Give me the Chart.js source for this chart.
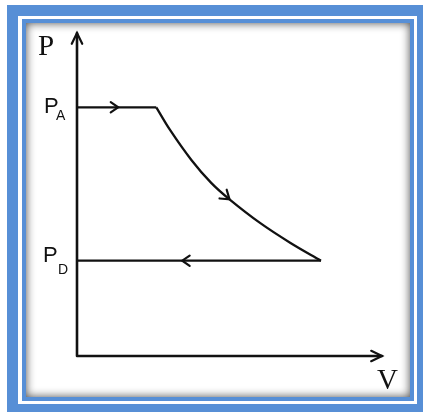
<!DOCTYPE html>
<html>
<head>
<meta charset="utf-8">
<script src="https://cdn.jsdelivr.net/npm/chart.js@4.4.1/dist/chart.umd.min.js"></script>
<style>
  body { margin: 0; background: #fff; }
  canvas { display: block; }
</style>
</head>
<body>
<canvas id="pvChart" width="423" height="412"></canvas>
<script>
// P-V cycle, arbitrary units (axes run 0..10)
const pA = 7.7;
const pD = 2.95;
const topV = [0, 2.6];
const curveV = [2.6, 3.05, 3.75, 4.4, 5.0, 6.0, 7.0, 8.0];
const curveP = [7.7, 7.0, 6.07, 5.36, 4.85, 4.12, 3.5, 2.95];
const bottomV = [8.0, 0];
const arrowTopV = 1.35;
const arrowBottomV = 3.45;
const arrowCurveIdx = 4;

const blue = '#578fd6';
const ink = '#111';

function pts(xs, ys) {
    return xs.map((x, i) => ({ x: x, y: Array.isArray(ys) ? ys[i] : ys }));
}

// draws an open chevron with tip at (x,y) pointing along angle a
function chevron(ctx, x, y, a, len, spread) {
    ctx.beginPath();
    ctx.moveTo(x - len * Math.cos(a - spread), y - len * Math.sin(a - spread));
    ctx.lineTo(x, y);
    ctx.lineTo(x - len * Math.cos(a + spread), y - len * Math.sin(a + spread));
    ctx.stroke();
}

const framePlugin = {
    id: 'frame',
    beforeDraw(chart) {
        const ctx = chart.ctx;
        ctx.save();
        ctx.fillStyle = '#fff';
        ctx.fillRect(0, 0, 423, 412);
        ctx.fillStyle = blue;
        ctx.fillRect(7, 5, 416, 407);
        ctx.fillStyle = '#fff';
        ctx.fillRect(18, 16, 399, 388);
        ctx.fillStyle = blue;
        ctx.fillRect(22, 19, 392, 382);
        ctx.fillStyle = '#fff';
        ctx.fillRect(26, 23, 384, 374);
        // inner shadow
        ctx.beginPath();
        ctx.rect(26, 23, 384, 374);
        ctx.clip();
        ctx.shadowColor = 'rgba(0,0,0,0.7)';
        ctx.shadowBlur = 10;
        ctx.lineWidth = 20;
        ctx.strokeStyle = '#000';
        ctx.strokeRect(16, 13, 404, 394);
        ctx.restore();
    }
};

const axesPlugin = {
    id: 'axesArrows',
    afterDatasetsDraw(chart) {
        const ctx = chart.ctx;
        const xs = chart.scales.x, ys = chart.scales.y;
        const x0 = xs.getPixelForValue(0), y0 = ys.getPixelForValue(0);
        const xEnd = xs.getPixelForValue(10), yTop = ys.getPixelForValue(10);
        ctx.save();
        ctx.strokeStyle = ink;
        ctx.lineWidth = 2.6;
        ctx.lineCap = 'round';
        ctx.beginPath();
        ctx.moveTo(x0, y0);
        ctx.lineTo(x0, yTop);
        ctx.moveTo(x0, y0);
        ctx.lineTo(xEnd, y0);
        ctx.stroke();
        ctx.lineWidth = 2.2;
        chevron(ctx, x0, yTop, -Math.PI / 2, 12, 0.45);
        chevron(ctx, xEnd, y0, 0, 12, 0.45);

        // flow arrows
        chevron(ctx, xs.getPixelForValue(arrowTopV), ys.getPixelForValue(pA), 0, 9, 0.6);
        chevron(ctx, xs.getPixelForValue(arrowBottomV), ys.getPixelForValue(pD), Math.PI, 9, 0.6);
        const i = arrowCurveIdx;
        const ax = xs.getPixelForValue(curveV[i]), ay = ys.getPixelForValue(curveP[i]);
        const bx = xs.getPixelForValue(curveV[i + 1]), by = ys.getPixelForValue(curveP[i + 1]);
        const cx = xs.getPixelForValue(curveV[i - 1]), cy = ys.getPixelForValue(curveP[i - 1]);
        chevron(ctx, ax, ay, Math.atan2(by - cy, bx - cx), 10, 0.6);

        // labels
        ctx.fillStyle = ink;
        ctx.textBaseline = 'alphabetic';
        ctx.font = '29px "Liberation Serif"';
        ctx.fillText('P', 38, 55);
        ctx.fillText('V', 377, 389);
        ctx.font = '22px "Liberation Sans"';
        ctx.fillText('P', 44, 113);
        ctx.fillText('P', 43, 262);
        ctx.font = '14px "Liberation Sans"';
        ctx.fillText('A', 56, 120);
        ctx.fillText('D', 58, 274);
        ctx.restore();
    }
};

new Chart(document.getElementById('pvChart'), {
    type: 'scatter',
    data: {
        datasets: [
            { data: pts(topV, pA), showLine: true, borderColor: ink, borderWidth: 2.3, pointRadius: 0 },
            { data: pts(curveV, curveP), showLine: true, borderColor: ink, borderWidth: 2.3, pointRadius: 0, tension: 0.35 },
            { data: pts(bottomV, pD), showLine: true, borderColor: ink, borderWidth: 2.3, pointRadius: 0 }
        ]
    },
    options: {
        responsive: false,
        animation: false,
        layout: { padding: { left: 77, right: 41, top: 33, bottom: 56 } },
        scales: {
            x: { type: 'linear', min: 0, max: 10, display: false },
            y: { type: 'linear', min: 0, max: 10, display: false }
        },
        plugins: {
            legend: { display: false },
            tooltip: { enabled: false }
        }
    },
    plugins: [framePlugin, axesPlugin]
});
</script>
</body>
</html>
